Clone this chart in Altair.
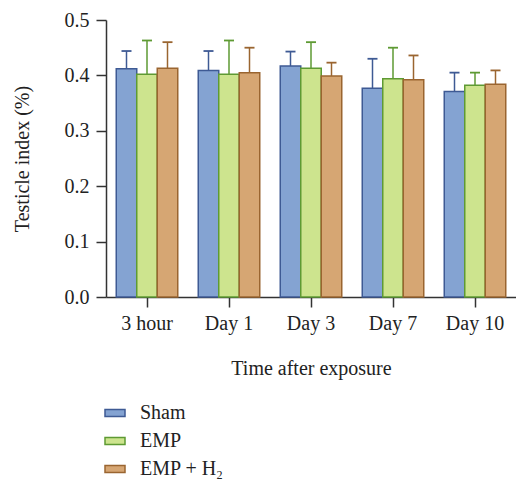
import altair as alt
import pandas as pd

times = ["3 hour", "Day 1", "Day 3", "Day 7", "Day 10"]
groups = ["Sham", "EMP", "EMP + H₂"]
sham = [0.412, 0.409, 0.417, 0.377, 0.371]
sham_up = [0.444, 0.444, 0.443, 0.430, 0.405]
emp = [0.402, 0.402, 0.413, 0.394, 0.382]
emp_up = [0.463, 0.463, 0.460, 0.450, 0.405]
h2 = [0.413, 0.405, 0.399, 0.392, 0.384]
h2_up = [0.460, 0.450, 0.423, 0.436, 0.409]

fills = ["#84a3d2", "#cde48e", "#d6a673"]
strokes = ["#3e5a94", "#5e9a33", "#9a6530"]

rows = []
for g, vals, ups in zip(groups, [sham, emp, h2], [sham_up, emp_up, h2_up]):
    for t, v, u in zip(times, vals, ups):
        rows.append({"time": t, "group": g, "value": v, "upper": u})
df = pd.DataFrame(rows)

FONT = "Liberation Serif"
FS = 20

x = alt.X("time:N", sort=times, title="Time after exposure",
          scale=alt.Scale(paddingInner=0.25, paddingOuter=0.125),
          axis=alt.Axis(labelAngle=0, tickSize=10, tickColor="#333", domainColor="#333",
                        labelFontSize=FS, titleFontSize=FS, labelPadding=6, titlePadding=25,
                        tickWidth=1.5, domainWidth=1.5, labelColor="#222", titleColor="#222",
                        titleFontWeight="normal"))
xo = alt.XOffset("group:N", sort=groups, scale=alt.Scale(domain=groups, paddingInner=0, paddingOuter=0))
y = alt.Y("value:Q", title="Testicle index (%)",
          scale=alt.Scale(domain=[0, 0.5], nice=False),
          axis=alt.Axis(values=[0, 0.1, 0.2, 0.3, 0.4, 0.5], format=".1f", tickSize=10,
                        tickColor="#333", domainColor="#333", labelFontSize=FS, titleFontSize=FS,
                        labelPadding=7, titlePadding=32, grid=False, tickWidth=1.5, domainWidth=1.5,
                        labelColor="#222", titleColor="#222", titleFontWeight="normal"))

fill = alt.Fill("group:N", sort=groups, scale=alt.Scale(domain=groups, range=fills),
                legend=alt.Legend(title=None))
stroke = alt.Stroke("group:N", sort=groups, scale=alt.Scale(domain=groups, range=strokes),
                    legend=alt.Legend(title=None))

base = alt.Chart(df)
bars = base.mark_bar(strokeWidth=1.5).encode(x=x, xOffset=xo, y=y, fill=fill, stroke=stroke)
err = base.mark_rule(strokeWidth=1.5).encode(
    x=x, xOffset=xo, y=alt.Y("value:Q"), y2="upper:Q", stroke=stroke)
caps = base.mark_point(shape="M-1,0L1,0", size=100, strokeWidth=1.8, filled=False, opacity=1).encode(
    x=x, xOffset=xo, y=alt.Y("upper:Q"), stroke=stroke)

chart = alt.layer(err, caps, bars).properties(
    width=410, height=277,
    autosize=alt.AutoSizeParams(type="none"),
    padding={"left": 106, "top": 20, "right": 0, "bottom": 184},
).configure_view(stroke=None).configure_legend(
    orient="none", legendX=-2, legendY=382, labelFont=FONT, labelFontSize=FS,
    labelColor="#222", symbolType="M-1,-0.35L1,-0.35L1,0.35L-1,0.35Z", symbolSize=400,
    symbolStrokeWidth=1.5, rowPadding=7, labelOffset=14,
).configure_axis(labelFont=FONT, titleFont=FONT)

chart.save("out.html", embed_options={"renderer": "svg", "actions": False})
